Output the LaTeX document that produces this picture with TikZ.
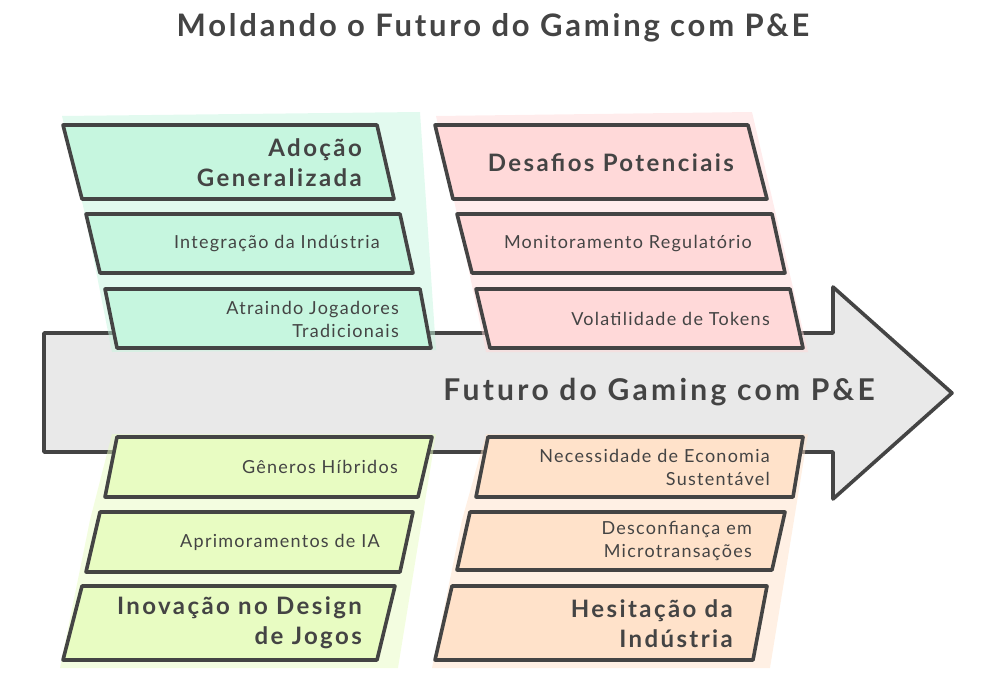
\documentclass[tikz,border=0pt]{standalone}
\usepackage{fontspec}
\setmainfont{Lato}
\definecolor{ink}{HTML}{444444}
\definecolor{arrowfill}{HTML}{E9E9E9}
\definecolor{mint}{HTML}{C6F6DF}
\definecolor{rose}{HTML}{FFD9D9}
\definecolor{lime}{HTML}{E8FCC2}
\definecolor{peach}{HTML}{FFE2CA}
\begin{document}
\begin{tikzpicture}[x=1pt,y=-1pt,
  outl/.style={draw=ink,line width=3.6pt,line join=round},
  blob/.style={fill opacity=0.5},
  head/.style={text=ink,font=\bfseries\fontsize{24}{30}\selectfont\addfontfeatures{LetterSpace=10},align=right,anchor=east,inner sep=0pt},
  item/.style={text=ink,font=\fontsize{18}{23}\selectfont\addfontfeatures{LetterSpace=7},align=right,anchor=east,inner sep=0pt}]
\useasboundingbox (0,0) rectangle (988,695);
% title
\node[text=ink,font=\bfseries\fontsize{31}{36}\selectfont\addfontfeatures{LetterSpace=9},inner sep=0pt] (title) at (493,28) {Moldando o Futuro do Gaming com P\&E};
% main arrow
\path[outl,fill=arrowfill] (44,333) -- (833,333) -- (833,287) -- (952,393) -- (833,499) -- (833,452) -- (44,452) -- cycle;
\node[text=ink,font=\bfseries\fontsize{30}{34}\selectfont\addfontfeatures{LetterSpace=11},anchor=east,inner sep=0pt] (main) at (875,392) {Futuro do Gaming com P\&E};
% background blobs
\fill[mint,blob] (62,116) -- (420,112) -- (436,350) -- (112,352) -- (84,210) -- cycle;
\fill[rose,blob] (436,116) -- (752,112) -- (808,352) -- (486,352) -- (455,205) -- cycle;
\fill[lime,blob] (112,434) -- (436,434) -- (398,668) -- (60,668) -- (90,520) -- cycle;
\fill[peach,blob] (486,434) -- (808,434) -- (770,668) -- (432,668) -- (462,520) -- cycle;
% top-left group
\path[outl,fill=mint] (63,125) -- (377,125) -- (394,199) -- (82,199) -- cycle;
\node[head] (adop) at (362,163) {Adoção\\Generalizada};
\path[outl,fill=mint] (86,214) -- (400,214) -- (413,273) -- (100,273) -- cycle;
\node[item] (integ) at (380,244) {Integração da Indústria};
\path[outl,fill=mint] (105,289) -- (420,289) -- (431,348) -- (117,348) -- cycle;
\node[item] (atra) at (399,319) {Atraindo Jogadores\\Tradicionais};
% top-right group
\path[outl,fill=rose] (435,125) -- (748,125) -- (767,199) -- (453,199) -- cycle;
\node[head] (desa) at (734,163) {Desafios Potenciais};
\path[outl,fill=rose] (457,214) -- (772,214) -- (785,273) -- (472,273) -- cycle;
\node[item] (moni) at (752,244) {Monitoramento Regulatório};
\path[outl,fill=rose] (476,289) -- (790,289) -- (803,348) -- (490,348) -- cycle;
\node[item] (vola) at (770,319) {Volatilidade de Tokens};
% bottom-left group
\path[outl,fill=lime] (117,437) -- (432,437) -- (418,497) -- (105,497) -- cycle;
\node[item] (gene) at (398,467) {Gêneros Híbridos};
\path[outl,fill=lime] (100,512) -- (413,512) -- (400,572) -- (86,572) -- cycle;
\node[item] (apri) at (380,542) {Aprimoramentos de IA};
\path[outl,fill=lime] (82,586) -- (395,586) -- (377,660) -- (63,660) -- cycle;
\node[head] (inov) at (362,623) {Inovação no Design\\de Jogos};
% bottom-right group
\path[outl,fill=peach] (488,437) -- (803,437) -- (793,497) -- (476,497) -- cycle;
\node[item] (nece) at (770,467) {Necessidade de Economia\\Sustentável};
\path[outl,fill=peach] (470,512) -- (785,512) -- (772,570) -- (457,570) -- cycle;
\node[item] (desc) at (752,541) {Desconfiança em\\Microtransações};
\path[outl,fill=peach] (452,586) -- (767,586) -- (753,660) -- (435,660) -- cycle;
\node[head] (hesi) at (733,624) {Hesitação da\\Indústria};
\end{tikzpicture}
\end{document}
